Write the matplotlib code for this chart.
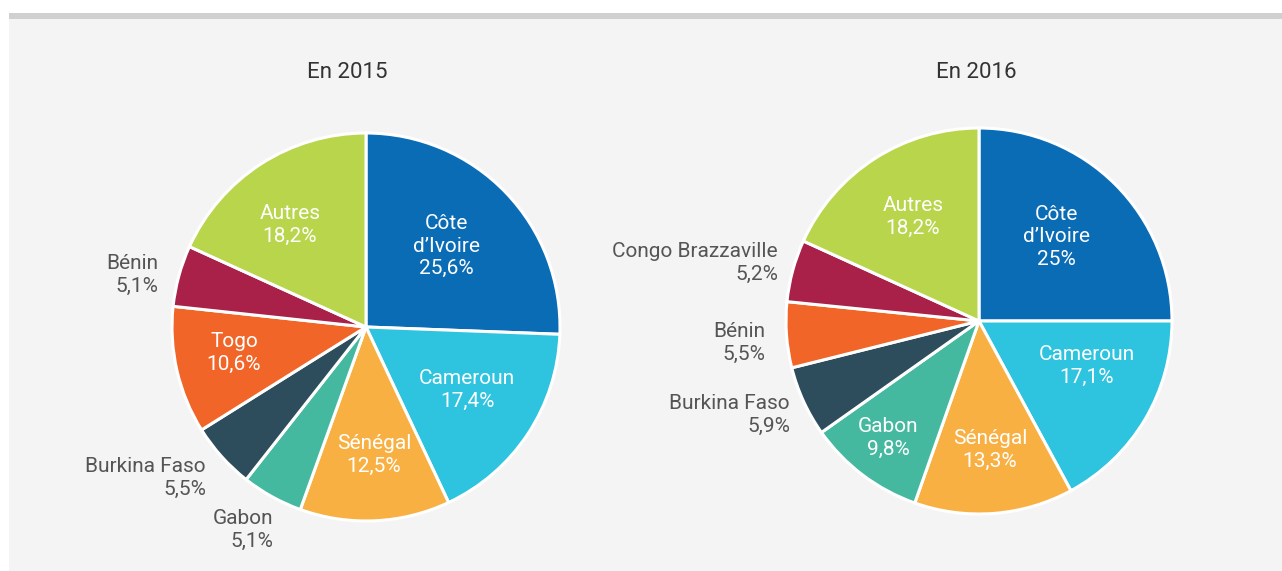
import matplotlib
matplotlib.use("Agg")
import matplotlib.pyplot as plt
from matplotlib.patches import Rectangle

plt.rcParams['font.family'] = ['Roboto', 'DejaVu Sans']

# Répartition par pays, en %
labels_2015 = ["Côte\nd’Ivoire", "Cameroun", "Sénégal", "Gabon", "Burkina Faso", "Togo", "Bénin", "Autres"]
values_2015 = [25.6, 17.4, 12.5, 5.1, 5.5, 10.6, 5.1, 18.2]

labels_2016 = ["Côte\nd’Ivoire", "Cameroun", "Sénégal", "Gabon", "Burkina Faso", "Bénin", "Congo Brazzaville", "Autres"]
values_2016 = [25.0, 17.1, 13.3, 9.8, 5.9, 5.5, 5.2, 18.2]

slice_colors = ["#0b6cb6", "#2ec3df", "#f9b043", "#45b99f", "#2d4c5c", "#f26528", "#a92049", "#b8d54c"]

W, H = 1282, 571
fig = plt.figure(figsize=(W / 100, H / 100), dpi=100)
fig.patch.set_facecolor("white")
ax = fig.add_axes([0, 0, 1, 1])

# label placement: (x, y from top, horizontal alignment, inside slice?)
layout_2015 = [
    (446, 246, "center", True),
    (467, 390, "center", True),
    (374, 455, "center", True),
    (273, 530, "right", False),
    (206, 478, "right", False),
    (234, 353, "center", True),
    (158, 275, "right", False),
    (290, 225, "center", True),
]
layout_2016 = [
    (1056, 237, "center", True),
    (1087, 366, "center", True),
    (990, 450, "center", True),
    (888, 438, "center", True),
    (790, 415, "right", False),
    (765, 343, "right", False),
    (778, 263, "right", False),
    (913, 217, "center", True),
]


def fmt(v):
    s = f"{int(v)}" if v == int(v) else f"{v:.1f}"
    return s.replace(".", ",") + "%"


def draw_pie(values, labels, layout, center, radius, title, title_x):
    cx, cy = center
    ax.pie(values, colors=slice_colors, startangle=90, counterclock=False,
           center=(cx, H - cy), radius=radius,
           wedgeprops=dict(edgecolor="white", linewidth=2.2))
    ax.text(title_x, H - 73, title, ha="center", va="center",
            fontsize=16, color="#333333")
    for v, lab, (x, y, ha, inside) in zip(values, labels, layout):
        txt = f"{lab}\n{fmt(v)}"
        ax.text(x, H - y, txt, ha=ha, va="center", multialignment=ha,
                fontsize=15, color="white" if inside else "#555555",
                linespacing=1.25)


# background panel with top band
ax.add_patch(Rectangle((9, 0), W - 9, H - 19, facecolor="#f4f4f4",
                       edgecolor="none", zorder=0))
ax.add_patch(Rectangle((9, H - 19), W - 9, 6, facecolor="#d0d0d0",
                       edgecolor="none", zorder=0))

draw_pie(values_2015, labels_2015, layout_2015, (366, 327), 194, "En 2015", 347)
draw_pie(values_2016, labels_2016, layout_2016, (979, 321), 193, "En 2016", 976)

ax.set_xlim(0, W)
ax.set_ylim(0, H)
ax.set_aspect("auto")
ax.axis("off")

fig.savefig("out.png", dpi=100, facecolor="white")
